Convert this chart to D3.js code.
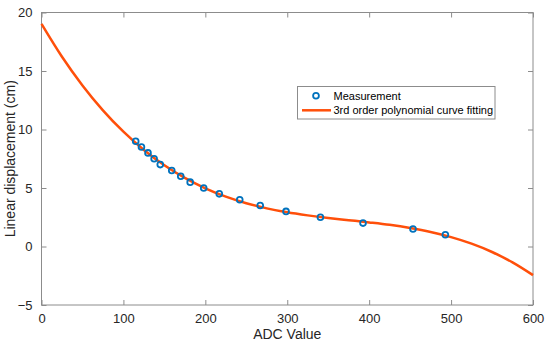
<!DOCTYPE html>
<html>
<head>
<meta charset="utf-8">
<script src="https://cdn.jsdelivr.net/npm/d3@7"></script>
<style>
  body { margin: 0; background: #fff; }
  text { font-family: "Liberation Sans", Arial, sans-serif; }
</style>
</head>
<body>
<div id="chart"></div>
<script>
var adcValues = [115, 122, 130, 137.5, 145, 159, 170, 181.5, 198, 217, 242, 267, 298.5, 340.5, 392.5, 453.5, 493];
var displacement = [9, 8.5, 8, 7.5, 7, 6.5, 6, 5.5, 5, 4.5, 4, 3.5, 3, 2.5, 2, 1.5, 1];

// fitted curve, sampled every 25 ADC units
var fitAdc = [0, 25, 50, 75, 100, 125, 150, 175, 200, 225, 250, 275, 300,
              325, 350, 375, 400, 425, 450, 475, 500, 525, 550, 575, 600];
var fitDisp = [19.03, 16.22, 13.77, 11.64, 9.81, 8.25, 6.94, 5.86, 4.97, 4.26, 3.70, 3.26, 2.92,
               2.66, 2.44, 2.25, 2.06, 1.85, 1.58, 1.24, 0.80, 0.24, -0.47, -1.36, -2.45];

var xTicks = [0, 100, 200, 300, 400, 500, 600];
var yTicks = [-5, 0, 5, 10, 15, 20];

var margin = {top: 12.5, right: 17, bottom: 40, left: 41.5},
  width = 550 - margin.left - margin.right,
  height = 345 - margin.top - margin.bottom;

var svg = d3.select("#chart")
  .append("svg")
    .attr("width", 550)
    .attr("height", 345)
  .append("g")
    .attr("transform", "translate(" + margin.left + "," + margin.top + ")");

var x = d3.scaleLinear().domain([0, 600]).range([0, width]);
var y = d3.scaleLinear().domain([-5, 20]).range([height, 0]);

var axisColor = "#8c8c8c";

// box
svg.append("rect")
  .attr("width", width).attr("height", height)
  .attr("fill", "none").attr("stroke", axisColor).attr("stroke-width", 1);

function styleAxis(g, hideText) {
  g.select(".domain").remove();
  g.selectAll(".tick line").attr("stroke", axisColor);
  g.selectAll(".tick text").attr("fill", "#262626").style("font-size", "13px");
  if (hideText) g.selectAll(".tick text").remove();
}

svg.append("g").attr("transform", "translate(0," + height + ")")
  .call(d3.axisBottom(x).tickValues(xTicks).tickSize(-5).tickPadding(9))
  .call(styleAxis);
svg.append("g")
  .call(d3.axisTop(x).tickValues(xTicks).tickSize(-5))
  .call(styleAxis, true);
svg.append("g")
  .call(d3.axisLeft(y).tickValues(yTicks).tickSize(-5).tickPadding(9))
  .call(styleAxis);
svg.append("g").attr("transform", "translate(" + width + ",0)")
  .call(d3.axisRight(y).tickValues(yTicks).tickSize(-5))
  .call(styleAxis, true);

// fitted curve
var line = d3.line()
  .x(function(d, i) { return x(fitAdc[i]); })
  .y(function(d) { return y(d); })
  .curve(d3.curveMonotoneX);

svg.append("path")
  .datum(fitDisp)
  .attr("fill", "none")
  .attr("stroke", "#ff4f0a")
  .attr("stroke-width", 2.5)
  .attr("d", line);

svg.selectAll(".pt")
  .data(adcValues)
  .enter().append("circle")
    .attr("class", "pt")
    .attr("cx", function(d) { return x(d); })
    .attr("cy", function(d, i) { return y(displacement[i]); })
    .attr("r", 2.9)
    .attr("fill", "none")
    .attr("stroke", "#0072bd")
    .attr("stroke-width", 1.8);

// axis titles
svg.append("text")
  .attr("x", width / 2).attr("y", height + 34)
  .attr("text-anchor", "middle").attr("fill", "#262626")
  .style("font-size", "14px")
  .text("ADC Value");
svg.append("text")
  .attr("transform", "translate(-27," + (height / 2) + ") rotate(-90)")
  .attr("text-anchor", "middle").attr("fill", "#262626")
  .style("font-size", "14px")
  .text("Linear displacement (cm)");

// legend
var lg = svg.append("g").attr("transform", "translate(256,74)");
lg.append("rect")
  .attr("width", 197.5).attr("height", 32.5)
  .attr("fill", "#fff").attr("stroke", axisColor).attr("stroke-width", 1);
lg.append("circle")
  .attr("cx", 18.5).attr("cy", 9.2).attr("r", 2.9)
  .attr("fill", "none").attr("stroke", "#0072bd").attr("stroke-width", 1.8);
lg.append("line")
  .attr("x1", 4.5).attr("x2", 33.5).attr("y1", 23.8).attr("y2", 23.8)
  .attr("stroke", "#ff4f0a").attr("stroke-width", 2.5);
lg.append("text").attr("x", 36).attr("y", 9.2).attr("dy", "0.35em")
  .style("font-size", "11px").attr("fill", "#000").text("Measurement");
lg.append("text").attr("x", 36).attr("y", 23.8).attr("dy", "0.35em")
  .style("font-size", "11px").attr("fill", "#000").text("3rd order polynomial curve fitting");
</script>
</body>
</html>
